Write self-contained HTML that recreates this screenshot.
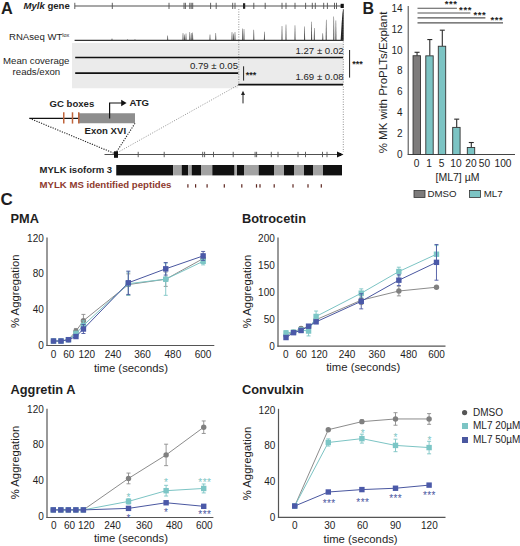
<!DOCTYPE html>
<html><head><meta charset="utf-8"><style>
html,body{margin:0;padding:0;background:#fff;}
svg{display:block;font-family:"Liberation Sans", sans-serif;}
</style></head><body>
<svg width="520" height="546" viewBox="0 0 520 546">
<rect width="520" height="546" fill="#fff"/>
<text x="1" y="13.8" font-size="16.3" font-weight="bold" text-anchor="start" fill="#1e1e1e" >A</text>
<text x="23.4" y="8.5" font-size="9.6" font-weight="bold" fill="#1e1e1e"><tspan font-style="italic">Mylk</tspan> gene</text>
<line x1="74.8" y1="5.9" x2="342" y2="5.9" stroke="#505050" stroke-width="1.05" />
<line x1="74.8" y1="2.8" x2="74.8" y2="9" stroke="#505050" stroke-width="0.9" />
<line x1="112.3" y1="2.8" x2="112.3" y2="9" stroke="#505050" stroke-width="0.9" />
<line x1="169" y1="2.8" x2="169" y2="9" stroke="#505050" stroke-width="0.9" />
<line x1="184" y1="2.8" x2="184" y2="9" stroke="#505050" stroke-width="0.9" />
<line x1="185.4" y1="2.8" x2="185.4" y2="9" stroke="#505050" stroke-width="0.9" />
<line x1="189.8" y1="2.8" x2="189.8" y2="9" stroke="#505050" stroke-width="0.9" />
<line x1="191.2" y1="2.8" x2="191.2" y2="9" stroke="#505050" stroke-width="0.9" />
<line x1="192.7" y1="2.8" x2="192.7" y2="9" stroke="#505050" stroke-width="0.9" />
<line x1="210.6" y1="2.8" x2="210.6" y2="9" stroke="#505050" stroke-width="0.9" />
<line x1="216.2" y1="2.8" x2="216.2" y2="9" stroke="#505050" stroke-width="0.9" />
<line x1="232.7" y1="2.8" x2="232.7" y2="9" stroke="#505050" stroke-width="0.9" />
<line x1="235" y1="2.8" x2="235" y2="9" stroke="#505050" stroke-width="0.9" />
<line x1="253.8" y1="2.8" x2="253.8" y2="9" stroke="#505050" stroke-width="0.9" />
<line x1="265.2" y1="2.8" x2="265.2" y2="9" stroke="#505050" stroke-width="0.9" />
<line x1="282" y1="2.8" x2="282" y2="9" stroke="#505050" stroke-width="0.9" />
<line x1="286" y1="2.8" x2="286" y2="9" stroke="#505050" stroke-width="0.9" />
<line x1="295" y1="2.8" x2="295" y2="9" stroke="#505050" stroke-width="0.9" />
<line x1="305.6" y1="2.8" x2="305.6" y2="9" stroke="#505050" stroke-width="0.9" />
<line x1="312.3" y1="2.8" x2="312.3" y2="9" stroke="#505050" stroke-width="0.9" />
<line x1="315.3" y1="2.8" x2="315.3" y2="9" stroke="#505050" stroke-width="0.9" />
<line x1="323.7" y1="2.8" x2="323.7" y2="9" stroke="#505050" stroke-width="0.9" />
<line x1="327.4" y1="2.8" x2="327.4" y2="9" stroke="#505050" stroke-width="0.9" />
<line x1="334.5" y1="2.8" x2="334.5" y2="9" stroke="#505050" stroke-width="0.9" />
<line x1="336.5" y1="2.8" x2="336.5" y2="9" stroke="#505050" stroke-width="0.9" />
<rect x="243" y="3.2" width="2.2" height="5.6" fill="#222" />
<rect x="340.6" y="3.8" width="3.2" height="4.2" fill="#111" />
<text x="9" y="39.6" font-size="9.6" fill="#1e1e1e">RNAseq WT<tspan font-size="5.5" dy="-2.6">lox</tspan></text>
<path d="M111.45 40.4 L111.8 38.5 L112.2 38.5 L112.55 40.4 Z" fill="#444"/>
<path d="M127.15 40.4 L127.5 39.2 L127.9 39.2 L128.25 40.4 Z" fill="#444"/>
<path d="M134.45 40.4 L134.8 39.2 L135.2 39.2 L135.55 40.4 Z" fill="#444"/>
<path d="M167.14999999999998 40.4 L167.5 35.6 L167.89999999999998 35.6 L168.25 40.4 Z" fill="#444"/>
<path d="M182.45 40.4 L182.8 33 L183.2 33 L183.55 40.4 Z" fill="#444"/>
<path d="M184.04999999999998 40.4 L184.4 34.5 L184.79999999999998 34.5 L185.15 40.4 Z" fill="#444"/>
<path d="M185.45 40.4 L185.8 33.5 L186.2 33.5 L186.55 40.4 Z" fill="#444"/>
<path d="M189.25 40.4 L189.60000000000002 32 L190.0 32 L190.35000000000002 40.4 Z" fill="#444"/>
<path d="M190.64999999999998 40.4 L191.0 33 L191.39999999999998 33 L191.75 40.4 Z" fill="#444"/>
<path d="M192.14999999999998 40.4 L192.5 32.5 L192.89999999999998 32.5 L193.25 40.4 Z" fill="#444"/>
<path d="M209.45 40.4 L209.8 34.6 L210.2 34.6 L210.55 40.4 Z" fill="#444"/>
<path d="M215.25 40.4 L215.60000000000002 33 L216.0 33 L216.35000000000002 40.4 Z" fill="#444"/>
<path d="M231.45 40.4 L231.8 32 L232.2 32 L232.55 40.4 Z" fill="#444"/>
<path d="M233.04999999999998 40.4 L233.4 33.5 L233.79999999999998 33.5 L234.15 40.4 Z" fill="#444"/>
<path d="M234.45 40.4 L234.8 32 L235.2 32 L235.55 40.4 Z" fill="#444"/>
<path d="M242.14999999999998 40.4 L242.5 28.5 L242.89999999999998 28.5 L243.25 40.4 Z" fill="#444"/>
<path d="M243.45 40.4 L243.8 29 L244.2 29 L244.55 40.4 Z" fill="#444"/>
<path d="M253.25 40.4 L253.60000000000002 29.8 L254.0 29.8 L254.35000000000002 40.4 Z" fill="#444"/>
<path d="M263.84999999999997 40.4 L264.2 31.7 L264.59999999999997 31.7 L264.95 40.4 Z" fill="#444"/>
<path d="M281.45 40.4 L281.8 25.9 L282.2 25.9 L282.55 40.4 Z" fill="#444"/>
<path d="M285.45 40.4 L285.8 24.5 L286.2 24.5 L286.55 40.4 Z" fill="#444"/>
<path d="M294.45 40.4 L294.8 25.2 L295.2 25.2 L295.55 40.4 Z" fill="#444"/>
<path d="M304.05 40.4 L304.40000000000003 26.5 L304.8 26.5 L305.15000000000003 40.4 Z" fill="#444"/>
<path d="M311.05 40.4 L311.40000000000003 21.8 L311.8 21.8 L312.15000000000003 40.4 Z" fill="#444"/>
<path d="M313.75 40.4 L314.1 27.9 L314.5 27.9 L314.85 40.4 Z" fill="#444"/>
<path d="M322.25 40.4 L322.6 33.3 L323.0 33.3 L323.35 40.4 Z" fill="#444"/>
<path d="M325.65 40.4 L326.0 19.8 L326.4 19.8 L326.75 40.4 Z" fill="#444"/>
<path d="M333.25 40.4 L333.6 16.4 L334.0 16.4 L334.35 40.4 Z" fill="#444"/>
<path d="M335.34999999999997 40.4 L335.7 20.5 L336.09999999999997 20.5 L336.45 40.4 Z" fill="#444"/>
<path d="M340.6 40.4 L341.6 24 L342.4 14 L343 9.5 L343.7 9.5 L343.7 40.4 Z" fill="#222"/>
<line x1="74.6" y1="40.4" x2="343.4" y2="40.4" stroke="#333" stroke-width="1.1" />
<path d="M72 43 H343.5 V84.6 H238.2 V88.3 H72 Z" fill="#ebebeb"/>
<line x1="238.8" y1="9" x2="238.8" y2="84" stroke="#777" stroke-width="0.8" stroke-dasharray="1,1.5"/>
<line x1="343.3" y1="9" x2="343.3" y2="152" stroke="#777" stroke-width="0.8" stroke-dasharray="1,1.5"/>
<line x1="75.2" y1="57.5" x2="343" y2="57.5" stroke="#111" stroke-width="1.6" />
<line x1="75.2" y1="73.1" x2="238.2" y2="73.1" stroke="#111" stroke-width="1.6" />
<line x1="238.2" y1="84.6" x2="343" y2="84.6" stroke="#111" stroke-width="1.6" />
<text x="3.1" y="63.9" font-size="9.65" font-weight="normal" text-anchor="start" fill="#1e1e1e" >Mean coverage</text>
<text x="36.4" y="75" font-size="9.65" font-weight="normal" text-anchor="middle" fill="#1e1e1e" >reads/exon</text>
<text x="343.6" y="53.5" font-size="9.65" font-weight="normal" text-anchor="end" fill="#1e1e1e" >1.27 ± 0.02</text>
<text x="238" y="69.3" font-size="9.65" font-weight="normal" text-anchor="end" fill="#1e1e1e" >0.79 ± 0.05</text>
<text x="343.6" y="80.4" font-size="9.65" font-weight="normal" text-anchor="end" fill="#1e1e1e" >1.69 ± 0.08</text>
<line x1="243.6" y1="66.3" x2="243.6" y2="80.6" stroke="#222" stroke-width="1" />
<text x="245.8" y="77.6" font-size="9" font-weight="bold" text-anchor="start" fill="#1e1e1e" >***</text>
<line x1="349.6" y1="50" x2="349.6" y2="77.6" stroke="#222" stroke-width="1" />
<text x="352.3" y="67" font-size="9" font-weight="bold" text-anchor="start" fill="#1e1e1e" >***</text>
<line x1="243" y1="92.5" x2="243" y2="103.4" stroke="#222" stroke-width="1" />
<path d="M241 95 L243 90.8 L245 95 Z" fill="#222"/>
<line x1="238.2" y1="85" x2="118.5" y2="152" stroke="#777" stroke-width="0.8" stroke-dasharray="1,1.5"/>
<line x1="29.5" y1="118.3" x2="114.5" y2="153.5" stroke="#222" stroke-width="1.1" stroke-dasharray="1.2,1.3"/>
<line x1="135" y1="123.3" x2="116.5" y2="152" stroke="#222" stroke-width="1.1" stroke-dasharray="1.2,1.3"/>
<text x="49.5" y="107" font-size="9.6" font-weight="bold" text-anchor="start" fill="#1e1e1e" >GC boxes</text>
<line x1="29.5" y1="118.3" x2="79" y2="118.3" stroke="#111" stroke-width="1.2" />
<rect x="78.75" y="113.25" width="56.25" height="10" fill="#8e8e8e" />
<line x1="63.75" y1="112.3" x2="63.75" y2="123.6" stroke="#c0653c" stroke-width="1.5" />
<line x1="72.5" y1="112.3" x2="72.5" y2="123.6" stroke="#c0653c" stroke-width="1.5" />
<line x1="78.75" y1="112.3" x2="78.75" y2="123.6" stroke="#c0653c" stroke-width="1.5" />
<path d="M109.6 118.5 V103 H122" fill="none" stroke="#111" stroke-width="1.2"/>
<path d="M121.2 99.8 L126.6 103 L121.2 106.2 Z" fill="#111"/>
<text x="129.5" y="105.8" font-size="9.6" font-weight="bold" text-anchor="start" fill="#1e1e1e" >ATG</text>
<text x="84.5" y="134.3" font-size="9.6" font-weight="bold" text-anchor="start" fill="#1e1e1e" >Exon XVI</text>
<line x1="104.5" y1="154.5" x2="340" y2="154.5" stroke="#505050" stroke-width="1" />
<rect x="114" y="151.3" width="4" height="6.5" fill="#111" />
<line x1="138.2" y1="151.8" x2="138.2" y2="157.2" stroke="#505050" stroke-width="0.9" />
<line x1="164.2" y1="151.8" x2="164.2" y2="157.2" stroke="#505050" stroke-width="0.9" />
<line x1="202.7" y1="151.8" x2="202.7" y2="157.2" stroke="#505050" stroke-width="0.9" />
<line x1="204.6" y1="151.8" x2="204.6" y2="157.2" stroke="#505050" stroke-width="0.9" />
<line x1="213.5" y1="151.8" x2="213.5" y2="157.2" stroke="#505050" stroke-width="0.9" />
<line x1="233.2" y1="151.8" x2="233.2" y2="157.2" stroke="#505050" stroke-width="0.9" />
<line x1="255.1" y1="151.8" x2="255.1" y2="157.2" stroke="#505050" stroke-width="0.9" />
<line x1="256.6" y1="151.8" x2="256.6" y2="157.2" stroke="#505050" stroke-width="0.9" />
<line x1="271.3" y1="151.8" x2="271.3" y2="157.2" stroke="#505050" stroke-width="0.9" />
<line x1="278" y1="151.8" x2="278" y2="157.2" stroke="#505050" stroke-width="0.9" />
<line x1="298" y1="151.8" x2="298" y2="157.2" stroke="#505050" stroke-width="0.9" />
<line x1="305.5" y1="151.8" x2="305.5" y2="157.2" stroke="#505050" stroke-width="0.9" />
<line x1="322.5" y1="151.8" x2="322.5" y2="157.2" stroke="#505050" stroke-width="0.9" />
<line x1="327" y1="151.8" x2="327" y2="157.2" stroke="#505050" stroke-width="0.9" />
<path d="M337 151.5 L343.5 154.5 L337 157.5 Z" fill="#111"/>
<rect x="337" y="153" width="4" height="3" fill="#111" />
<text x="39.5" y="173.3" font-size="9.55" font-weight="bold" text-anchor="start" fill="#1e1e1e" >MYLK isoform 3</text>
<rect x="116.25" y="165" width="56.85" height="10.4" fill="#111" />
<rect x="173.1" y="165" width="8.6" height="10.4" fill="#a3a3a3" />
<rect x="181.7" y="165" width="6.6" height="10.4" fill="#111" />
<rect x="188.3" y="165" width="3.4" height="10.4" fill="#a3a3a3" />
<rect x="191.7" y="165" width="9.3" height="10.4" fill="#111" />
<rect x="201" y="165" width="11.3" height="10.4" fill="#a3a3a3" />
<rect x="212.3" y="165" width="22.3" height="10.4" fill="#111" />
<rect x="234.6" y="165" width="2.4" height="10.4" fill="#aaa" />
<rect x="237" y="165" width="7" height="10.4" fill="#111" />
<rect x="244" y="165" width="14" height="10.4" fill="#a3a3a3" />
<rect x="258.5" y="165" width="15.5" height="10.4" fill="#111" />
<rect x="274" y="165" width="10" height="10.4" fill="#a3a3a3" />
<rect x="284" y="165" width="10" height="10.4" fill="#111" />
<rect x="294" y="165" width="10" height="10.4" fill="#a3a3a3" />
<rect x="304" y="165" width="9" height="10.4" fill="#111" />
<rect x="313" y="165" width="10" height="10.4" fill="#a3a3a3" />
<rect x="323" y="165" width="19" height="10.4" fill="#111" />
<text x="39.5" y="187.6" font-size="9.62" font-weight="bold" text-anchor="start" fill="#8e3a2e" >MYLK MS identified peptides</text>
<rect x="187.3" y="184.2" width="1.2" height="3.4" fill="#5e2620" />
<rect x="195.0" y="184.2" width="1.2" height="3.4" fill="#5e2620" />
<rect x="206.5" y="184.2" width="1.2" height="3.4" fill="#5e2620" />
<rect x="223.70000000000002" y="184.2" width="1.2" height="3.4" fill="#5e2620" />
<rect x="241.20000000000002" y="184.2" width="1.2" height="3.4" fill="#5e2620" />
<rect x="255.9" y="184.2" width="1.2" height="3.4" fill="#5e2620" />
<rect x="259.4" y="184.2" width="1.2" height="3.4" fill="#5e2620" />
<rect x="273.59999999999997" y="184.2" width="1.2" height="3.4" fill="#5e2620" />
<rect x="292.4" y="184.2" width="1.2" height="3.4" fill="#5e2620" />
<rect x="307.4" y="184.2" width="1.2" height="3.4" fill="#5e2620" />
<rect x="320.7" y="184.2" width="1.2" height="3.4" fill="#5e2620" />
<text x="362.6" y="13.6" font-size="16" font-weight="bold" text-anchor="start" fill="#1e1e1e" >B</text>
<line x1="408.2" y1="6" x2="408.2" y2="154.8" stroke="#444" stroke-width="1" />
<line x1="407.7" y1="154.5" x2="515" y2="154.5" stroke="#444" stroke-width="1" />
<text x="402.6" y="157.8" font-size="10" font-weight="normal" text-anchor="end" fill="#1e1e1e" >0</text>
<text x="402.6" y="136.94" font-size="10" font-weight="normal" text-anchor="end" fill="#1e1e1e" >2</text>
<text x="402.6" y="116.08" font-size="10" font-weight="normal" text-anchor="end" fill="#1e1e1e" >4</text>
<text x="402.6" y="95.22" font-size="10" font-weight="normal" text-anchor="end" fill="#1e1e1e" >6</text>
<text x="402.6" y="74.36" font-size="10" font-weight="normal" text-anchor="end" fill="#1e1e1e" >8</text>
<text x="402.6" y="53.5" font-size="10" font-weight="normal" text-anchor="end" fill="#1e1e1e" >10</text>
<text x="402.6" y="32.64" font-size="10" font-weight="normal" text-anchor="end" fill="#1e1e1e" >12</text>
<text x="402.6" y="11.78" font-size="10" font-weight="normal" text-anchor="end" fill="#1e1e1e" >14</text>
<line x1="417.05" y1="52.29460000000002" x2="417.05" y2="55.73650000000002" stroke="#2a2a2a" stroke-width="1.1" />
<line x1="414.55" y1="52.29460000000002" x2="419.55" y2="52.29460000000002" stroke="#2a2a2a" stroke-width="1.1" />
<rect x="413.05" y="55.73650000000002" width="7.4" height="98.76349999999998" fill="#7d7b7b" stroke="#333" stroke-width="0.9"/>
<line x1="429.8" y1="39.57000000000002" x2="429.8" y2="55.840800000000016" stroke="#2a2a2a" stroke-width="1.1" />
<line x1="427.3" y1="39.57000000000002" x2="432.3" y2="39.57000000000002" stroke="#2a2a2a" stroke-width="1.1" />
<rect x="425.8" y="55.840800000000016" width="7.4" height="98.65919999999998" fill="#7cc4c4" stroke="#333" stroke-width="0.9"/>
<line x1="442.3" y1="30.183000000000007" x2="442.3" y2="46.245200000000025" stroke="#2a2a2a" stroke-width="1.1" />
<line x1="439.8" y1="30.183000000000007" x2="444.8" y2="30.183000000000007" stroke="#2a2a2a" stroke-width="1.1" />
<rect x="438.3" y="46.245200000000025" width="7.4" height="108.25479999999997" fill="#7cc4c4" stroke="#333" stroke-width="0.9"/>
<line x1="456.7" y1="119.15090000000001" x2="456.7" y2="127.3906" stroke="#2a2a2a" stroke-width="1.1" />
<line x1="454.2" y1="119.15090000000001" x2="459.2" y2="119.15090000000001" stroke="#2a2a2a" stroke-width="1.1" />
<rect x="452.7" y="127.3906" width="7.4" height="27.109399999999994" fill="#7cc4c4" stroke="#333" stroke-width="0.9"/>
<line x1="471.3" y1="142.5141" x2="471.3" y2="147.5205" stroke="#2a2a2a" stroke-width="1.1" />
<line x1="468.8" y1="142.5141" x2="473.8" y2="142.5141" stroke="#2a2a2a" stroke-width="1.1" />
<rect x="467.3" y="147.5205" width="7.4" height="6.979500000000002" fill="#7cc4c4" stroke="#333" stroke-width="0.9"/>
<text x="416.6" y="167.3" font-size="10.2" font-weight="normal" text-anchor="middle" fill="#1e1e1e" >0</text>
<text x="429" y="167.3" font-size="10.2" font-weight="normal" text-anchor="middle" fill="#1e1e1e" >1</text>
<text x="441.6" y="167.3" font-size="10.2" font-weight="normal" text-anchor="middle" fill="#1e1e1e" >5</text>
<text x="456" y="167.3" font-size="10.2" font-weight="normal" text-anchor="middle" fill="#1e1e1e" >10</text>
<text x="471" y="167.3" font-size="10.2" font-weight="normal" text-anchor="middle" fill="#1e1e1e" >20</text>
<text x="484.5" y="167.3" font-size="10.2" font-weight="normal" text-anchor="middle" fill="#1e1e1e" >50</text>
<text x="503" y="167.3" font-size="10.2" font-weight="normal" text-anchor="middle" fill="#1e1e1e" >100</text>
<text x="457.5" y="180.6" font-size="10.5" font-weight="normal" text-anchor="middle" fill="#1e1e1e" >[ML7] µM</text>
<text transform="translate(387.4,82.5) rotate(-90)" font-size="11.5" text-anchor="middle" fill="#1e1e1e">% MK with ProPLTs/Explant</text>
<line x1="417.5" y1="8.2" x2="456.9" y2="8.2" stroke="#555" stroke-width="1.1" />
<line x1="417.5" y1="13" x2="470.4" y2="13" stroke="#555" stroke-width="1.1" />
<line x1="417.5" y1="17.9" x2="485.4" y2="17.9" stroke="#555" stroke-width="1.1" />
<line x1="417.5" y1="22.9" x2="503" y2="22.9" stroke="#555" stroke-width="1.1" />
<text x="444.7" y="7.3999999999999995" font-size="9.5" font-weight="bold" text-anchor="start" fill="#1e1e1e" letter-spacing="0.6">***</text>
<text x="459.09999999999997" y="13.4" font-size="9.5" font-weight="bold" text-anchor="start" fill="#1e1e1e" letter-spacing="0.6">***</text>
<text x="473.5" y="18.2" font-size="9.5" font-weight="bold" text-anchor="start" fill="#1e1e1e" letter-spacing="0.6">***</text>
<text x="490.5" y="23.400000000000002" font-size="9.5" font-weight="bold" text-anchor="start" fill="#1e1e1e" letter-spacing="0.6">***</text>
<rect x="414" y="190.5" width="11" height="7" fill="#7d7b7b" stroke="#333" stroke-width="0.8"/>
<text x="427.5" y="197.4" font-size="9.7" font-weight="normal" text-anchor="start" fill="#1e1e1e" >DMSO</text>
<rect x="469.5" y="190.5" width="11" height="7" fill="#7cc4c4" stroke="#333" stroke-width="0.8"/>
<text x="483.7" y="197.4" font-size="9.7" font-weight="normal" text-anchor="start" fill="#1e1e1e" >ML7</text>
<text x="0.6" y="204.6" font-size="17" font-weight="bold" text-anchor="start" fill="#1e1e1e" >C</text>
<text x="10.5" y="223.4" font-size="12.8" font-weight="bold" text-anchor="start" fill="#1e1e1e" >PMA</text>
<line x1="47" y1="237.5" x2="47" y2="346.1" stroke="#555" stroke-width="1.2" />
<line x1="46.4" y1="345.5" x2="214.3" y2="345.5" stroke="#555" stroke-width="1.2" />
<text x="43.8" y="349.0" font-size="10" font-weight="normal" text-anchor="end" fill="#1e1e1e" >0</text>
<text x="43.8" y="313.17" font-size="10" font-weight="normal" text-anchor="end" fill="#1e1e1e" >40</text>
<text x="43.8" y="277.34" font-size="10" font-weight="normal" text-anchor="end" fill="#1e1e1e" >80</text>
<text x="43.8" y="241.5" font-size="10" font-weight="normal" text-anchor="end" fill="#1e1e1e" >120</text>
<text x="53.65" y="357.9" font-size="10" font-weight="normal" text-anchor="middle" fill="#1e1e1e" >0</text>
<text x="68.85" y="357.9" font-size="10" font-weight="normal" text-anchor="middle" fill="#1e1e1e" >60</text>
<text x="86.85" y="357.9" font-size="10" font-weight="normal" text-anchor="middle" fill="#1e1e1e" >120</text>
<text x="113" y="357.9" font-size="10" font-weight="normal" text-anchor="middle" fill="#1e1e1e" >240</text>
<text x="142.5" y="357.9" font-size="10" font-weight="normal" text-anchor="middle" fill="#1e1e1e" >360</text>
<text x="172.9" y="357.9" font-size="10" font-weight="normal" text-anchor="middle" fill="#1e1e1e" >480</text>
<text x="203" y="357.9" font-size="10" font-weight="normal" text-anchor="middle" fill="#1e1e1e" >600</text>
<text x="93.9" y="371.5" font-size="11.3" font-weight="normal" text-anchor="start" fill="#1e1e1e" >time (seconds)</text>
<text transform="translate(19.3,291.2) rotate(-90)" font-size="11.3" text-anchor="middle" fill="#1e1e1e">% Aggregation</text>
<path d="M53.50 341.02 L60.98 341.02 L68.46 339.68 L75.95 331.17 L83.43 320.69 L128.32 284.59 L165.73 279.21 L203.14 258.61" fill="none" stroke="#8c8c8c" stroke-width="1"/>
<line x1="53.5" y1="340.13" x2="53.5" y2="341.92" stroke="#8c8c8c" stroke-width="0.9" />
<line x1="51.5" y1="340.13" x2="55.5" y2="340.13" stroke="#8c8c8c" stroke-width="0.9" />
<line x1="51.5" y1="341.92" x2="55.5" y2="341.92" stroke="#8c8c8c" stroke-width="0.9" />
<line x1="60.98" y1="340.13" x2="60.98" y2="341.92" stroke="#8c8c8c" stroke-width="0.9" />
<line x1="58.98" y1="340.13" x2="62.98" y2="340.13" stroke="#8c8c8c" stroke-width="0.9" />
<line x1="58.98" y1="341.92" x2="62.98" y2="341.92" stroke="#8c8c8c" stroke-width="0.9" />
<line x1="68.46" y1="338.78" x2="68.46" y2="340.57" stroke="#8c8c8c" stroke-width="0.9" />
<line x1="66.46" y1="338.78" x2="70.46" y2="338.78" stroke="#8c8c8c" stroke-width="0.9" />
<line x1="66.46" y1="340.57" x2="70.46" y2="340.57" stroke="#8c8c8c" stroke-width="0.9" />
<line x1="75.95" y1="328.48" x2="75.95" y2="333.85" stroke="#8c8c8c" stroke-width="0.9" />
<line x1="73.95" y1="328.48" x2="77.95" y2="328.48" stroke="#8c8c8c" stroke-width="0.9" />
<line x1="73.95" y1="333.85" x2="77.95" y2="333.85" stroke="#8c8c8c" stroke-width="0.9" />
<line x1="83.43" y1="314.42" x2="83.43" y2="326.96" stroke="#8c8c8c" stroke-width="0.9" />
<line x1="81.43" y1="314.42" x2="85.43" y2="314.42" stroke="#8c8c8c" stroke-width="0.9" />
<line x1="81.43" y1="326.96" x2="85.43" y2="326.96" stroke="#8c8c8c" stroke-width="0.9" />
<line x1="128.32" y1="273.84" x2="128.32" y2="295.34" stroke="#8c8c8c" stroke-width="0.9" />
<line x1="126.32" y1="273.84" x2="130.32" y2="273.84" stroke="#8c8c8c" stroke-width="0.9" />
<line x1="126.32" y1="295.34" x2="130.32" y2="295.34" stroke="#8c8c8c" stroke-width="0.9" />
<line x1="165.73" y1="272.04" x2="165.73" y2="286.38" stroke="#8c8c8c" stroke-width="0.9" />
<line x1="163.73" y1="272.04" x2="167.73" y2="272.04" stroke="#8c8c8c" stroke-width="0.9" />
<line x1="163.73" y1="286.38" x2="167.73" y2="286.38" stroke="#8c8c8c" stroke-width="0.9" />
<line x1="203.14" y1="254.13" x2="203.14" y2="263.09" stroke="#8c8c8c" stroke-width="0.9" />
<line x1="201.14" y1="254.13" x2="205.14" y2="254.13" stroke="#8c8c8c" stroke-width="0.9" />
<line x1="201.14" y1="263.09" x2="205.14" y2="263.09" stroke="#8c8c8c" stroke-width="0.9" />
<circle cx="53.50" cy="341.02" r="2.7" fill="#808080"/>
<circle cx="60.98" cy="341.02" r="2.7" fill="#808080"/>
<circle cx="68.46" cy="339.68" r="2.7" fill="#808080"/>
<circle cx="75.95" cy="331.17" r="2.7" fill="#808080"/>
<circle cx="83.43" cy="320.69" r="2.7" fill="#808080"/>
<circle cx="128.32" cy="284.59" r="2.7" fill="#808080"/>
<circle cx="165.73" cy="279.21" r="2.7" fill="#808080"/>
<circle cx="203.14" cy="258.61" r="2.7" fill="#808080"/>
<path d="M53.50 341.02 L60.98 341.02 L68.46 339.68 L75.95 333.85 L83.43 325.34 L128.32 283.69 L165.73 279.21 L203.14 261.29" fill="none" stroke="#7cc4c4" stroke-width="1"/>
<line x1="53.5" y1="340.13" x2="53.5" y2="341.92" stroke="#7cc4c4" stroke-width="0.9" />
<line x1="51.5" y1="340.13" x2="55.5" y2="340.13" stroke="#7cc4c4" stroke-width="0.9" />
<line x1="51.5" y1="341.92" x2="55.5" y2="341.92" stroke="#7cc4c4" stroke-width="0.9" />
<line x1="60.98" y1="340.13" x2="60.98" y2="341.92" stroke="#7cc4c4" stroke-width="0.9" />
<line x1="58.98" y1="340.13" x2="62.98" y2="340.13" stroke="#7cc4c4" stroke-width="0.9" />
<line x1="58.98" y1="341.92" x2="62.98" y2="341.92" stroke="#7cc4c4" stroke-width="0.9" />
<line x1="68.46" y1="338.78" x2="68.46" y2="340.57" stroke="#7cc4c4" stroke-width="0.9" />
<line x1="66.46" y1="338.78" x2="70.46" y2="338.78" stroke="#7cc4c4" stroke-width="0.9" />
<line x1="66.46" y1="340.57" x2="70.46" y2="340.57" stroke="#7cc4c4" stroke-width="0.9" />
<line x1="75.95" y1="331.17" x2="75.95" y2="336.54" stroke="#7cc4c4" stroke-width="0.9" />
<line x1="73.95" y1="331.17" x2="77.95" y2="331.17" stroke="#7cc4c4" stroke-width="0.9" />
<line x1="73.95" y1="336.54" x2="77.95" y2="336.54" stroke="#7cc4c4" stroke-width="0.9" />
<line x1="83.43" y1="320.87" x2="83.43" y2="329.82" stroke="#7cc4c4" stroke-width="0.9" />
<line x1="81.43" y1="320.87" x2="85.43" y2="320.87" stroke="#7cc4c4" stroke-width="0.9" />
<line x1="81.43" y1="329.82" x2="85.43" y2="329.82" stroke="#7cc4c4" stroke-width="0.9" />
<line x1="128.32" y1="272.04" x2="128.32" y2="295.34" stroke="#7cc4c4" stroke-width="0.9" />
<line x1="126.32" y1="272.04" x2="130.32" y2="272.04" stroke="#7cc4c4" stroke-width="0.9" />
<line x1="126.32" y1="295.34" x2="130.32" y2="295.34" stroke="#7cc4c4" stroke-width="0.9" />
<line x1="165.73" y1="263.09" x2="165.73" y2="295.34" stroke="#7cc4c4" stroke-width="0.9" />
<line x1="163.73" y1="263.09" x2="167.73" y2="263.09" stroke="#7cc4c4" stroke-width="0.9" />
<line x1="163.73" y1="295.34" x2="167.73" y2="295.34" stroke="#7cc4c4" stroke-width="0.9" />
<line x1="203.14" y1="257.71" x2="203.14" y2="264.88" stroke="#7cc4c4" stroke-width="0.9" />
<line x1="201.14" y1="257.71" x2="205.14" y2="257.71" stroke="#7cc4c4" stroke-width="0.9" />
<line x1="201.14" y1="264.88" x2="205.14" y2="264.88" stroke="#7cc4c4" stroke-width="0.9" />
<rect x="50.80" y="338.32" width="5.4" height="5.4" fill="#7cc6c6"/>
<rect x="58.28" y="338.32" width="5.4" height="5.4" fill="#7cc6c6"/>
<rect x="65.76" y="336.98" width="5.4" height="5.4" fill="#7cc6c6"/>
<rect x="73.25" y="331.15" width="5.4" height="5.4" fill="#7cc6c6"/>
<rect x="80.73" y="322.64" width="5.4" height="5.4" fill="#7cc6c6"/>
<rect x="125.62" y="280.99" width="5.4" height="5.4" fill="#7cc6c6"/>
<rect x="163.03" y="276.51" width="5.4" height="5.4" fill="#7cc6c6"/>
<rect x="200.44" y="258.59" width="5.4" height="5.4" fill="#7cc6c6"/>
<path d="M53.50 341.02 L60.98 341.02 L68.46 339.68 L75.95 336.54 L83.43 329.02 L128.32 282.79 L165.73 268.82 L203.14 255.92" fill="none" stroke="#4a57a0" stroke-width="1"/>
<line x1="53.5" y1="340.13" x2="53.5" y2="341.92" stroke="#4a57a0" stroke-width="0.9" />
<line x1="51.5" y1="340.13" x2="55.5" y2="340.13" stroke="#4a57a0" stroke-width="0.9" />
<line x1="51.5" y1="341.92" x2="55.5" y2="341.92" stroke="#4a57a0" stroke-width="0.9" />
<line x1="60.98" y1="340.13" x2="60.98" y2="341.92" stroke="#4a57a0" stroke-width="0.9" />
<line x1="58.98" y1="340.13" x2="62.98" y2="340.13" stroke="#4a57a0" stroke-width="0.9" />
<line x1="58.98" y1="341.92" x2="62.98" y2="341.92" stroke="#4a57a0" stroke-width="0.9" />
<line x1="68.46" y1="338.78" x2="68.46" y2="340.57" stroke="#4a57a0" stroke-width="0.9" />
<line x1="66.46" y1="338.78" x2="70.46" y2="338.78" stroke="#4a57a0" stroke-width="0.9" />
<line x1="66.46" y1="340.57" x2="70.46" y2="340.57" stroke="#4a57a0" stroke-width="0.9" />
<line x1="75.95" y1="334.75" x2="75.95" y2="338.33" stroke="#4a57a0" stroke-width="0.9" />
<line x1="73.95" y1="334.75" x2="77.95" y2="334.75" stroke="#4a57a0" stroke-width="0.9" />
<line x1="73.95" y1="338.33" x2="77.95" y2="338.33" stroke="#4a57a0" stroke-width="0.9" />
<line x1="83.43" y1="324.54" x2="83.43" y2="333.5" stroke="#4a57a0" stroke-width="0.9" />
<line x1="81.43" y1="324.54" x2="85.43" y2="324.54" stroke="#4a57a0" stroke-width="0.9" />
<line x1="81.43" y1="333.5" x2="85.43" y2="333.5" stroke="#4a57a0" stroke-width="0.9" />
<line x1="128.32" y1="271.15" x2="128.32" y2="294.44" stroke="#4a57a0" stroke-width="0.9" />
<line x1="126.32" y1="271.15" x2="130.32" y2="271.15" stroke="#4a57a0" stroke-width="0.9" />
<line x1="126.32" y1="294.44" x2="130.32" y2="294.44" stroke="#4a57a0" stroke-width="0.9" />
<line x1="165.73" y1="262.55" x2="165.73" y2="275.09" stroke="#4a57a0" stroke-width="0.9" />
<line x1="163.73" y1="262.55" x2="167.73" y2="262.55" stroke="#4a57a0" stroke-width="0.9" />
<line x1="163.73" y1="275.09" x2="167.73" y2="275.09" stroke="#4a57a0" stroke-width="0.9" />
<line x1="203.14" y1="251.44" x2="203.14" y2="260.4" stroke="#4a57a0" stroke-width="0.9" />
<line x1="201.14" y1="251.44" x2="205.14" y2="251.44" stroke="#4a57a0" stroke-width="0.9" />
<line x1="201.14" y1="260.4" x2="205.14" y2="260.4" stroke="#4a57a0" stroke-width="0.9" />
<rect x="50.80" y="338.32" width="5.4" height="5.4" fill="#4b59a8"/>
<rect x="58.28" y="338.32" width="5.4" height="5.4" fill="#4b59a8"/>
<rect x="65.76" y="336.98" width="5.4" height="5.4" fill="#4b59a8"/>
<rect x="73.25" y="333.84" width="5.4" height="5.4" fill="#4b59a8"/>
<rect x="80.73" y="326.32" width="5.4" height="5.4" fill="#4b59a8"/>
<rect x="125.62" y="280.09" width="5.4" height="5.4" fill="#4b59a8"/>
<rect x="163.03" y="266.12" width="5.4" height="5.4" fill="#4b59a8"/>
<rect x="200.44" y="253.22" width="5.4" height="5.4" fill="#4b59a8"/>
<text x="242" y="223.4" font-size="12.8" font-weight="bold" text-anchor="start" fill="#1e1e1e" >Botrocetin</text>
<line x1="278" y1="237.5" x2="278" y2="346.8" stroke="#555" stroke-width="1.2" />
<line x1="277.4" y1="346.2" x2="445.5" y2="346.2" stroke="#555" stroke-width="1.2" />
<text x="274.8" y="349.7" font-size="10" font-weight="normal" text-anchor="end" fill="#1e1e1e" >0</text>
<text x="274.8" y="322.65" font-size="10" font-weight="normal" text-anchor="end" fill="#1e1e1e" >50</text>
<text x="274.8" y="295.6" font-size="10" font-weight="normal" text-anchor="end" fill="#1e1e1e" >100</text>
<text x="274.8" y="268.55" font-size="10" font-weight="normal" text-anchor="end" fill="#1e1e1e" >150</text>
<text x="274.8" y="241.5" font-size="10" font-weight="normal" text-anchor="end" fill="#1e1e1e" >200</text>
<text x="285.75" y="357.9" font-size="10" font-weight="normal" text-anchor="middle" fill="#1e1e1e" >0</text>
<text x="301.25" y="357.9" font-size="10" font-weight="normal" text-anchor="middle" fill="#1e1e1e" >60</text>
<text x="319.3" y="357.9" font-size="10" font-weight="normal" text-anchor="middle" fill="#1e1e1e" >120</text>
<text x="347" y="357.9" font-size="10" font-weight="normal" text-anchor="middle" fill="#1e1e1e" >240</text>
<text x="376.9" y="357.9" font-size="10" font-weight="normal" text-anchor="middle" fill="#1e1e1e" >360</text>
<text x="408.7" y="357.9" font-size="10" font-weight="normal" text-anchor="middle" fill="#1e1e1e" >480</text>
<text x="436.5" y="357.9" font-size="10" font-weight="normal" text-anchor="middle" fill="#1e1e1e" >600</text>
<text x="326.2" y="370.8" font-size="11.3" font-weight="normal" text-anchor="start" fill="#1e1e1e" >time (seconds)</text>
<text transform="translate(251,291.5) rotate(-90)" font-size="11.3" text-anchor="middle" fill="#1e1e1e">% Aggregation</text>
<path d="M286.00 335.38 L293.52 332.13 L301.05 328.35 L308.57 327.26 L316.10 319.69 L361.24 300.21 L398.86 291.02 L436.48 287.23" fill="none" stroke="#8c8c8c" stroke-width="1"/>
<line x1="286.0" y1="334.3" x2="286.0" y2="336.46" stroke="#8c8c8c" stroke-width="0.9" />
<line x1="284.0" y1="334.3" x2="288.0" y2="334.3" stroke="#8c8c8c" stroke-width="0.9" />
<line x1="284.0" y1="336.46" x2="288.0" y2="336.46" stroke="#8c8c8c" stroke-width="0.9" />
<line x1="293.52" y1="330.51" x2="293.52" y2="333.76" stroke="#8c8c8c" stroke-width="0.9" />
<line x1="291.52" y1="330.51" x2="295.52" y2="330.51" stroke="#8c8c8c" stroke-width="0.9" />
<line x1="291.52" y1="333.76" x2="295.52" y2="333.76" stroke="#8c8c8c" stroke-width="0.9" />
<line x1="301.05" y1="326.72" x2="301.05" y2="329.97" stroke="#8c8c8c" stroke-width="0.9" />
<line x1="299.05" y1="326.72" x2="303.05" y2="326.72" stroke="#8c8c8c" stroke-width="0.9" />
<line x1="299.05" y1="329.97" x2="303.05" y2="329.97" stroke="#8c8c8c" stroke-width="0.9" />
<line x1="308.57" y1="325.64" x2="308.57" y2="328.89" stroke="#8c8c8c" stroke-width="0.9" />
<line x1="306.57" y1="325.64" x2="310.57" y2="325.64" stroke="#8c8c8c" stroke-width="0.9" />
<line x1="306.57" y1="328.89" x2="310.57" y2="328.89" stroke="#8c8c8c" stroke-width="0.9" />
<line x1="316.1" y1="317.53" x2="316.1" y2="321.85" stroke="#8c8c8c" stroke-width="0.9" />
<line x1="314.1" y1="317.53" x2="318.1" y2="317.53" stroke="#8c8c8c" stroke-width="0.9" />
<line x1="314.1" y1="321.85" x2="318.1" y2="321.85" stroke="#8c8c8c" stroke-width="0.9" />
<line x1="361.24" y1="295.89" x2="361.24" y2="304.54" stroke="#8c8c8c" stroke-width="0.9" />
<line x1="359.24" y1="295.89" x2="363.24" y2="295.89" stroke="#8c8c8c" stroke-width="0.9" />
<line x1="359.24" y1="304.54" x2="363.24" y2="304.54" stroke="#8c8c8c" stroke-width="0.9" />
<line x1="398.86" y1="286.15" x2="398.86" y2="295.89" stroke="#8c8c8c" stroke-width="0.9" />
<line x1="396.86" y1="286.15" x2="400.86" y2="286.15" stroke="#8c8c8c" stroke-width="0.9" />
<line x1="396.86" y1="295.89" x2="400.86" y2="295.89" stroke="#8c8c8c" stroke-width="0.9" />
<circle cx="286.00" cy="335.38" r="2.7" fill="#808080"/>
<circle cx="293.52" cy="332.13" r="2.7" fill="#808080"/>
<circle cx="301.05" cy="328.35" r="2.7" fill="#808080"/>
<circle cx="308.57" cy="327.26" r="2.7" fill="#808080"/>
<circle cx="316.10" cy="319.69" r="2.7" fill="#808080"/>
<circle cx="361.24" cy="300.21" r="2.7" fill="#808080"/>
<circle cx="398.86" cy="291.02" r="2.7" fill="#808080"/>
<circle cx="436.48" cy="287.23" r="2.7" fill="#808080"/>
<path d="M286.00 332.95 L293.52 332.13 L301.05 329.97 L308.57 331.05 L316.10 316.44 L361.24 293.18 L398.86 271.54 L436.48 254.23" fill="none" stroke="#7cc4c4" stroke-width="1"/>
<line x1="286.0" y1="330.78" x2="286.0" y2="335.11" stroke="#7cc4c4" stroke-width="0.9" />
<line x1="284.0" y1="330.78" x2="288.0" y2="330.78" stroke="#7cc4c4" stroke-width="0.9" />
<line x1="284.0" y1="335.11" x2="288.0" y2="335.11" stroke="#7cc4c4" stroke-width="0.9" />
<line x1="293.52" y1="330.51" x2="293.52" y2="333.76" stroke="#7cc4c4" stroke-width="0.9" />
<line x1="291.52" y1="330.51" x2="295.52" y2="330.51" stroke="#7cc4c4" stroke-width="0.9" />
<line x1="291.52" y1="333.76" x2="295.52" y2="333.76" stroke="#7cc4c4" stroke-width="0.9" />
<line x1="301.05" y1="327.81" x2="301.05" y2="332.13" stroke="#7cc4c4" stroke-width="0.9" />
<line x1="299.05" y1="327.81" x2="303.05" y2="327.81" stroke="#7cc4c4" stroke-width="0.9" />
<line x1="299.05" y1="332.13" x2="303.05" y2="332.13" stroke="#7cc4c4" stroke-width="0.9" />
<line x1="308.57" y1="326.18" x2="308.57" y2="335.92" stroke="#7cc4c4" stroke-width="0.9" />
<line x1="306.57" y1="326.18" x2="310.57" y2="326.18" stroke="#7cc4c4" stroke-width="0.9" />
<line x1="306.57" y1="335.92" x2="310.57" y2="335.92" stroke="#7cc4c4" stroke-width="0.9" />
<line x1="316.1" y1="311.03" x2="316.1" y2="321.86" stroke="#7cc4c4" stroke-width="0.9" />
<line x1="314.1" y1="311.03" x2="318.1" y2="311.03" stroke="#7cc4c4" stroke-width="0.9" />
<line x1="314.1" y1="321.86" x2="318.1" y2="321.86" stroke="#7cc4c4" stroke-width="0.9" />
<line x1="361.24" y1="288.85" x2="361.24" y2="297.51" stroke="#7cc4c4" stroke-width="0.9" />
<line x1="359.24" y1="288.85" x2="363.24" y2="288.85" stroke="#7cc4c4" stroke-width="0.9" />
<line x1="359.24" y1="297.51" x2="363.24" y2="297.51" stroke="#7cc4c4" stroke-width="0.9" />
<line x1="398.86" y1="267.21" x2="398.86" y2="275.87" stroke="#7cc4c4" stroke-width="0.9" />
<line x1="396.86" y1="267.21" x2="400.86" y2="267.21" stroke="#7cc4c4" stroke-width="0.9" />
<line x1="396.86" y1="275.87" x2="400.86" y2="275.87" stroke="#7cc4c4" stroke-width="0.9" />
<line x1="436.48" y1="245.57" x2="436.48" y2="262.89" stroke="#7cc4c4" stroke-width="0.9" />
<line x1="434.48" y1="245.57" x2="438.48" y2="245.57" stroke="#7cc4c4" stroke-width="0.9" />
<line x1="434.48" y1="262.89" x2="438.48" y2="262.89" stroke="#7cc4c4" stroke-width="0.9" />
<rect x="283.30" y="330.25" width="5.4" height="5.4" fill="#7cc6c6"/>
<rect x="290.82" y="329.43" width="5.4" height="5.4" fill="#7cc6c6"/>
<rect x="298.35" y="327.27" width="5.4" height="5.4" fill="#7cc6c6"/>
<rect x="305.87" y="328.35" width="5.4" height="5.4" fill="#7cc6c6"/>
<rect x="313.40" y="313.75" width="5.4" height="5.4" fill="#7cc6c6"/>
<rect x="358.54" y="290.48" width="5.4" height="5.4" fill="#7cc6c6"/>
<rect x="396.16" y="268.84" width="5.4" height="5.4" fill="#7cc6c6"/>
<rect x="433.78" y="251.53" width="5.4" height="5.4" fill="#7cc6c6"/>
<path d="M286.00 337.54 L293.52 332.68 L301.05 330.51 L308.57 326.18 L316.10 321.85 L361.24 301.30 L398.86 280.20 L436.48 262.34" fill="none" stroke="#4a57a0" stroke-width="1"/>
<line x1="286.0" y1="335.92" x2="286.0" y2="339.17" stroke="#4a57a0" stroke-width="0.9" />
<line x1="284.0" y1="335.92" x2="288.0" y2="335.92" stroke="#4a57a0" stroke-width="0.9" />
<line x1="284.0" y1="339.17" x2="288.0" y2="339.17" stroke="#4a57a0" stroke-width="0.9" />
<line x1="293.52" y1="331.05" x2="293.52" y2="334.3" stroke="#4a57a0" stroke-width="0.9" />
<line x1="291.52" y1="331.05" x2="295.52" y2="331.05" stroke="#4a57a0" stroke-width="0.9" />
<line x1="291.52" y1="334.3" x2="295.52" y2="334.3" stroke="#4a57a0" stroke-width="0.9" />
<line x1="301.05" y1="328.89" x2="301.05" y2="332.13" stroke="#4a57a0" stroke-width="0.9" />
<line x1="299.05" y1="328.89" x2="303.05" y2="328.89" stroke="#4a57a0" stroke-width="0.9" />
<line x1="299.05" y1="332.13" x2="303.05" y2="332.13" stroke="#4a57a0" stroke-width="0.9" />
<line x1="308.57" y1="324.56" x2="308.57" y2="327.81" stroke="#4a57a0" stroke-width="0.9" />
<line x1="306.57" y1="324.56" x2="310.57" y2="324.56" stroke="#4a57a0" stroke-width="0.9" />
<line x1="306.57" y1="327.81" x2="310.57" y2="327.81" stroke="#4a57a0" stroke-width="0.9" />
<line x1="316.1" y1="320.23" x2="316.1" y2="323.48" stroke="#4a57a0" stroke-width="0.9" />
<line x1="314.1" y1="320.23" x2="318.1" y2="320.23" stroke="#4a57a0" stroke-width="0.9" />
<line x1="314.1" y1="323.48" x2="318.1" y2="323.48" stroke="#4a57a0" stroke-width="0.9" />
<line x1="361.24" y1="293.72" x2="361.24" y2="308.87" stroke="#4a57a0" stroke-width="0.9" />
<line x1="359.24" y1="293.72" x2="363.24" y2="293.72" stroke="#4a57a0" stroke-width="0.9" />
<line x1="359.24" y1="308.87" x2="363.24" y2="308.87" stroke="#4a57a0" stroke-width="0.9" />
<line x1="398.86" y1="274.79" x2="398.86" y2="285.61" stroke="#4a57a0" stroke-width="0.9" />
<line x1="396.86" y1="274.79" x2="400.86" y2="274.79" stroke="#4a57a0" stroke-width="0.9" />
<line x1="396.86" y1="285.61" x2="400.86" y2="285.61" stroke="#4a57a0" stroke-width="0.9" />
<line x1="436.48" y1="244.49" x2="436.48" y2="280.2" stroke="#4a57a0" stroke-width="0.9" />
<line x1="434.48" y1="244.49" x2="438.48" y2="244.49" stroke="#4a57a0" stroke-width="0.9" />
<line x1="434.48" y1="280.2" x2="438.48" y2="280.2" stroke="#4a57a0" stroke-width="0.9" />
<rect x="283.30" y="334.84" width="5.4" height="5.4" fill="#4b59a8"/>
<rect x="290.82" y="329.98" width="5.4" height="5.4" fill="#4b59a8"/>
<rect x="298.35" y="327.81" width="5.4" height="5.4" fill="#4b59a8"/>
<rect x="305.87" y="323.48" width="5.4" height="5.4" fill="#4b59a8"/>
<rect x="313.40" y="319.15" width="5.4" height="5.4" fill="#4b59a8"/>
<rect x="358.54" y="298.60" width="5.4" height="5.4" fill="#4b59a8"/>
<rect x="396.16" y="277.50" width="5.4" height="5.4" fill="#4b59a8"/>
<rect x="433.78" y="259.64" width="5.4" height="5.4" fill="#4b59a8"/>
<text x="10.5" y="393.90000000000003" font-size="12.8" font-weight="bold" text-anchor="start" fill="#1e1e1e" >Aggretin A</text>
<line x1="47" y1="408.8" x2="47" y2="518.1" stroke="#555" stroke-width="1.2" />
<line x1="46.4" y1="517.5" x2="213.4" y2="517.5" stroke="#555" stroke-width="1.2" />
<text x="43.8" y="520.0" font-size="10" font-weight="normal" text-anchor="end" fill="#1e1e1e" >0</text>
<text x="43.8" y="484.24" font-size="10" font-weight="normal" text-anchor="end" fill="#1e1e1e" >40</text>
<text x="43.8" y="448.48" font-size="10" font-weight="normal" text-anchor="end" fill="#1e1e1e" >80</text>
<text x="43.8" y="412.72" font-size="10" font-weight="normal" text-anchor="end" fill="#1e1e1e" >120</text>
<text x="53.75" y="528.8" font-size="10" font-weight="normal" text-anchor="middle" fill="#1e1e1e" >0</text>
<text x="69.5" y="528.8" font-size="10" font-weight="normal" text-anchor="middle" fill="#1e1e1e" >60</text>
<text x="86.25" y="528.8" font-size="10" font-weight="normal" text-anchor="middle" fill="#1e1e1e" >120</text>
<text x="112.5" y="528.8" font-size="10" font-weight="normal" text-anchor="middle" fill="#1e1e1e" >240</text>
<text x="144.3" y="528.8" font-size="10" font-weight="normal" text-anchor="middle" fill="#1e1e1e" >360</text>
<text x="174.3" y="528.8" font-size="10" font-weight="normal" text-anchor="middle" fill="#1e1e1e" >480</text>
<text x="204.3" y="528.8" font-size="10" font-weight="normal" text-anchor="middle" fill="#1e1e1e" >600</text>
<text x="93.9" y="542" font-size="11.3" font-weight="normal" text-anchor="start" fill="#1e1e1e" >time (seconds)</text>
<text transform="translate(19.2,462.5) rotate(-90)" font-size="11.3" text-anchor="middle" fill="#1e1e1e">% Aggregation</text>
<path d="M53.30 509.90 L60.82 509.90 L68.34 509.90 L75.86 509.90 L83.38 509.90 L128.51 478.43 L166.11 454.92 L203.72 427.21" fill="none" stroke="#8c8c8c" stroke-width="1"/>
<line x1="53.3" y1="509.01" x2="53.3" y2="510.8" stroke="#8c8c8c" stroke-width="0.9" />
<line x1="51.3" y1="509.01" x2="55.3" y2="509.01" stroke="#8c8c8c" stroke-width="0.9" />
<line x1="51.3" y1="510.8" x2="55.3" y2="510.8" stroke="#8c8c8c" stroke-width="0.9" />
<line x1="60.82" y1="509.01" x2="60.82" y2="510.8" stroke="#8c8c8c" stroke-width="0.9" />
<line x1="58.82" y1="509.01" x2="62.82" y2="509.01" stroke="#8c8c8c" stroke-width="0.9" />
<line x1="58.82" y1="510.8" x2="62.82" y2="510.8" stroke="#8c8c8c" stroke-width="0.9" />
<line x1="68.34" y1="509.01" x2="68.34" y2="510.8" stroke="#8c8c8c" stroke-width="0.9" />
<line x1="66.34" y1="509.01" x2="70.34" y2="509.01" stroke="#8c8c8c" stroke-width="0.9" />
<line x1="66.34" y1="510.8" x2="70.34" y2="510.8" stroke="#8c8c8c" stroke-width="0.9" />
<line x1="75.86" y1="509.01" x2="75.86" y2="510.8" stroke="#8c8c8c" stroke-width="0.9" />
<line x1="73.86" y1="509.01" x2="77.86" y2="509.01" stroke="#8c8c8c" stroke-width="0.9" />
<line x1="73.86" y1="510.8" x2="77.86" y2="510.8" stroke="#8c8c8c" stroke-width="0.9" />
<line x1="83.38" y1="509.01" x2="83.38" y2="510.8" stroke="#8c8c8c" stroke-width="0.9" />
<line x1="81.38" y1="509.01" x2="85.38" y2="509.01" stroke="#8c8c8c" stroke-width="0.9" />
<line x1="81.38" y1="510.8" x2="85.38" y2="510.8" stroke="#8c8c8c" stroke-width="0.9" />
<line x1="128.51" y1="473.07" x2="128.51" y2="483.8" stroke="#8c8c8c" stroke-width="0.9" />
<line x1="126.51" y1="473.07" x2="130.51" y2="473.07" stroke="#8c8c8c" stroke-width="0.9" />
<line x1="126.51" y1="483.8" x2="130.51" y2="483.8" stroke="#8c8c8c" stroke-width="0.9" />
<line x1="166.11" y1="444.19" x2="166.11" y2="465.65" stroke="#8c8c8c" stroke-width="0.9" />
<line x1="164.11" y1="444.19" x2="168.11" y2="444.19" stroke="#8c8c8c" stroke-width="0.9" />
<line x1="164.11" y1="465.65" x2="168.11" y2="465.65" stroke="#8c8c8c" stroke-width="0.9" />
<line x1="203.72" y1="420.95" x2="203.72" y2="433.46" stroke="#8c8c8c" stroke-width="0.9" />
<line x1="201.72" y1="420.95" x2="205.72" y2="420.95" stroke="#8c8c8c" stroke-width="0.9" />
<line x1="201.72" y1="433.46" x2="205.72" y2="433.46" stroke="#8c8c8c" stroke-width="0.9" />
<circle cx="53.30" cy="509.90" r="2.7" fill="#808080"/>
<circle cx="60.82" cy="509.90" r="2.7" fill="#808080"/>
<circle cx="68.34" cy="509.90" r="2.7" fill="#808080"/>
<circle cx="75.86" cy="509.90" r="2.7" fill="#808080"/>
<circle cx="83.38" cy="509.90" r="2.7" fill="#808080"/>
<circle cx="128.51" cy="478.43" r="2.7" fill="#808080"/>
<circle cx="166.11" cy="454.92" r="2.7" fill="#808080"/>
<circle cx="203.72" cy="427.21" r="2.7" fill="#808080"/>
<path d="M53.30 509.90 L60.82 509.90 L68.34 509.90 L75.86 509.90 L83.38 509.90 L128.51 501.41 L166.11 490.68 L203.72 488.44" fill="none" stroke="#7cc4c4" stroke-width="1"/>
<line x1="53.3" y1="509.01" x2="53.3" y2="510.8" stroke="#7cc4c4" stroke-width="0.9" />
<line x1="51.3" y1="509.01" x2="55.3" y2="509.01" stroke="#7cc4c4" stroke-width="0.9" />
<line x1="51.3" y1="510.8" x2="55.3" y2="510.8" stroke="#7cc4c4" stroke-width="0.9" />
<line x1="60.82" y1="509.01" x2="60.82" y2="510.8" stroke="#7cc4c4" stroke-width="0.9" />
<line x1="58.82" y1="509.01" x2="62.82" y2="509.01" stroke="#7cc4c4" stroke-width="0.9" />
<line x1="58.82" y1="510.8" x2="62.82" y2="510.8" stroke="#7cc4c4" stroke-width="0.9" />
<line x1="68.34" y1="509.01" x2="68.34" y2="510.8" stroke="#7cc4c4" stroke-width="0.9" />
<line x1="66.34" y1="509.01" x2="70.34" y2="509.01" stroke="#7cc4c4" stroke-width="0.9" />
<line x1="66.34" y1="510.8" x2="70.34" y2="510.8" stroke="#7cc4c4" stroke-width="0.9" />
<line x1="75.86" y1="509.01" x2="75.86" y2="510.8" stroke="#7cc4c4" stroke-width="0.9" />
<line x1="73.86" y1="509.01" x2="77.86" y2="509.01" stroke="#7cc4c4" stroke-width="0.9" />
<line x1="73.86" y1="510.8" x2="77.86" y2="510.8" stroke="#7cc4c4" stroke-width="0.9" />
<line x1="83.38" y1="509.01" x2="83.38" y2="510.8" stroke="#7cc4c4" stroke-width="0.9" />
<line x1="81.38" y1="509.01" x2="85.38" y2="509.01" stroke="#7cc4c4" stroke-width="0.9" />
<line x1="81.38" y1="510.8" x2="85.38" y2="510.8" stroke="#7cc4c4" stroke-width="0.9" />
<line x1="128.51" y1="498.73" x2="128.51" y2="504.09" stroke="#7cc4c4" stroke-width="0.9" />
<line x1="126.51" y1="498.73" x2="130.51" y2="498.73" stroke="#7cc4c4" stroke-width="0.9" />
<line x1="126.51" y1="504.09" x2="130.51" y2="504.09" stroke="#7cc4c4" stroke-width="0.9" />
<line x1="166.11" y1="485.32" x2="166.11" y2="496.04" stroke="#7cc4c4" stroke-width="0.9" />
<line x1="164.11" y1="485.32" x2="168.11" y2="485.32" stroke="#7cc4c4" stroke-width="0.9" />
<line x1="164.11" y1="496.04" x2="168.11" y2="496.04" stroke="#7cc4c4" stroke-width="0.9" />
<line x1="203.72" y1="483.97" x2="203.72" y2="492.92" stroke="#7cc4c4" stroke-width="0.9" />
<line x1="201.72" y1="483.97" x2="205.72" y2="483.97" stroke="#7cc4c4" stroke-width="0.9" />
<line x1="201.72" y1="492.92" x2="205.72" y2="492.92" stroke="#7cc4c4" stroke-width="0.9" />
<rect x="50.60" y="507.20" width="5.4" height="5.4" fill="#7cc6c6"/>
<rect x="58.12" y="507.20" width="5.4" height="5.4" fill="#7cc6c6"/>
<rect x="65.64" y="507.20" width="5.4" height="5.4" fill="#7cc6c6"/>
<rect x="73.16" y="507.20" width="5.4" height="5.4" fill="#7cc6c6"/>
<rect x="80.68" y="507.20" width="5.4" height="5.4" fill="#7cc6c6"/>
<rect x="125.81" y="498.71" width="5.4" height="5.4" fill="#7cc6c6"/>
<rect x="163.41" y="487.98" width="5.4" height="5.4" fill="#7cc6c6"/>
<rect x="201.02" y="485.75" width="5.4" height="5.4" fill="#7cc6c6"/>
<path d="M53.30 509.90 L60.82 509.90 L68.34 509.90 L75.86 509.90 L83.38 509.90 L128.51 508.38 L166.11 502.75 L203.72 506.32" fill="none" stroke="#4a57a0" stroke-width="1"/>
<line x1="53.3" y1="509.01" x2="53.3" y2="510.8" stroke="#4a57a0" stroke-width="0.9" />
<line x1="51.3" y1="509.01" x2="55.3" y2="509.01" stroke="#4a57a0" stroke-width="0.9" />
<line x1="51.3" y1="510.8" x2="55.3" y2="510.8" stroke="#4a57a0" stroke-width="0.9" />
<line x1="60.82" y1="509.01" x2="60.82" y2="510.8" stroke="#4a57a0" stroke-width="0.9" />
<line x1="58.82" y1="509.01" x2="62.82" y2="509.01" stroke="#4a57a0" stroke-width="0.9" />
<line x1="58.82" y1="510.8" x2="62.82" y2="510.8" stroke="#4a57a0" stroke-width="0.9" />
<line x1="68.34" y1="509.01" x2="68.34" y2="510.8" stroke="#4a57a0" stroke-width="0.9" />
<line x1="66.34" y1="509.01" x2="70.34" y2="509.01" stroke="#4a57a0" stroke-width="0.9" />
<line x1="66.34" y1="510.8" x2="70.34" y2="510.8" stroke="#4a57a0" stroke-width="0.9" />
<line x1="75.86" y1="509.01" x2="75.86" y2="510.8" stroke="#4a57a0" stroke-width="0.9" />
<line x1="73.86" y1="509.01" x2="77.86" y2="509.01" stroke="#4a57a0" stroke-width="0.9" />
<line x1="73.86" y1="510.8" x2="77.86" y2="510.8" stroke="#4a57a0" stroke-width="0.9" />
<line x1="83.38" y1="509.01" x2="83.38" y2="510.8" stroke="#4a57a0" stroke-width="0.9" />
<line x1="81.38" y1="509.01" x2="85.38" y2="509.01" stroke="#4a57a0" stroke-width="0.9" />
<line x1="81.38" y1="510.8" x2="85.38" y2="510.8" stroke="#4a57a0" stroke-width="0.9" />
<line x1="128.51" y1="507.49" x2="128.51" y2="509.28" stroke="#4a57a0" stroke-width="0.9" />
<line x1="126.51" y1="507.49" x2="130.51" y2="507.49" stroke="#4a57a0" stroke-width="0.9" />
<line x1="126.51" y1="509.28" x2="130.51" y2="509.28" stroke="#4a57a0" stroke-width="0.9" />
<line x1="166.11" y1="501.86" x2="166.11" y2="503.64" stroke="#4a57a0" stroke-width="0.9" />
<line x1="164.11" y1="501.86" x2="168.11" y2="501.86" stroke="#4a57a0" stroke-width="0.9" />
<line x1="164.11" y1="503.64" x2="168.11" y2="503.64" stroke="#4a57a0" stroke-width="0.9" />
<line x1="203.72" y1="505.43" x2="203.72" y2="507.22" stroke="#4a57a0" stroke-width="0.9" />
<line x1="201.72" y1="505.43" x2="205.72" y2="505.43" stroke="#4a57a0" stroke-width="0.9" />
<line x1="201.72" y1="507.22" x2="205.72" y2="507.22" stroke="#4a57a0" stroke-width="0.9" />
<rect x="50.60" y="507.20" width="5.4" height="5.4" fill="#4b59a8"/>
<rect x="58.12" y="507.20" width="5.4" height="5.4" fill="#4b59a8"/>
<rect x="65.64" y="507.20" width="5.4" height="5.4" fill="#4b59a8"/>
<rect x="73.16" y="507.20" width="5.4" height="5.4" fill="#4b59a8"/>
<rect x="80.68" y="507.20" width="5.4" height="5.4" fill="#4b59a8"/>
<rect x="125.81" y="505.68" width="5.4" height="5.4" fill="#4b59a8"/>
<rect x="163.41" y="500.05" width="5.4" height="5.4" fill="#4b59a8"/>
<rect x="201.02" y="503.62" width="5.4" height="5.4" fill="#4b59a8"/>
<text x="128.5" y="500.70000000000005" font-size="10" font-weight="normal" text-anchor="middle" fill="#7cc4c4" >*</text>
<text x="166" y="486.1" font-size="10" font-weight="normal" text-anchor="middle" fill="#7cc4c4" >*</text>
<text x="204.79999999999998" y="486.1" font-size="10" font-weight="normal" text-anchor="middle" fill="#7cc4c4" letter-spacing="0.4">***</text>
<text x="128.5" y="521.9" font-size="10" font-weight="normal" text-anchor="middle" fill="#4a57a0" >*</text>
<text x="166" y="515.5" font-size="10" font-weight="normal" text-anchor="middle" fill="#4a57a0" >*</text>
<text x="204.79999999999998" y="518.4" font-size="10" font-weight="normal" text-anchor="middle" fill="#4a57a0" letter-spacing="0.4">***</text>
<text x="242" y="394.1" font-size="12.8" font-weight="bold" text-anchor="start" fill="#1e1e1e" >Convulxin</text>
<line x1="278.5" y1="408.8" x2="278.5" y2="517.9" stroke="#555" stroke-width="1.2" />
<line x1="277.9" y1="517.3" x2="445.5" y2="517.3" stroke="#555" stroke-width="1.2" />
<text x="275.3" y="520.8" font-size="10" font-weight="normal" text-anchor="end" fill="#1e1e1e" >0</text>
<text x="275.3" y="485.04" font-size="10" font-weight="normal" text-anchor="end" fill="#1e1e1e" >40</text>
<text x="275.3" y="449.28" font-size="10" font-weight="normal" text-anchor="end" fill="#1e1e1e" >80</text>
<text x="275.3" y="413.52" font-size="10" font-weight="normal" text-anchor="end" fill="#1e1e1e" >120</text>
<text x="294.7" y="529.3" font-size="10" font-weight="normal" text-anchor="middle" fill="#1e1e1e" >0</text>
<text x="329.7" y="529.3" font-size="10" font-weight="normal" text-anchor="middle" fill="#1e1e1e" >30</text>
<text x="362.6" y="529.3" font-size="10" font-weight="normal" text-anchor="middle" fill="#1e1e1e" >60</text>
<text x="395.5" y="529.3" font-size="10" font-weight="normal" text-anchor="middle" fill="#1e1e1e" >90</text>
<text x="429.4" y="529.3" font-size="10" font-weight="normal" text-anchor="middle" fill="#1e1e1e" >120</text>
<text x="323.5" y="542.5" font-size="11.3" font-weight="normal" text-anchor="start" fill="#1e1e1e" >time (seconds)</text>
<text transform="translate(251.4,463.5) rotate(-90)" font-size="11.3" text-anchor="middle" fill="#1e1e1e">% Aggregation</text>
<path d="M294.70 506.04 L328.30 429.69 L361.90 421.64 L395.50 418.96 L429.10 418.96" fill="none" stroke="#8c8c8c" stroke-width="1"/>
<line x1="328.3" y1="428.79" x2="328.3" y2="430.58" stroke="#8c8c8c" stroke-width="0.9" />
<line x1="326.3" y1="428.79" x2="330.3" y2="428.79" stroke="#8c8c8c" stroke-width="0.9" />
<line x1="326.3" y1="430.58" x2="330.3" y2="430.58" stroke="#8c8c8c" stroke-width="0.9" />
<line x1="361.9" y1="419.85" x2="361.9" y2="423.43" stroke="#8c8c8c" stroke-width="0.9" />
<line x1="359.9" y1="419.85" x2="363.9" y2="419.85" stroke="#8c8c8c" stroke-width="0.9" />
<line x1="359.9" y1="423.43" x2="363.9" y2="423.43" stroke="#8c8c8c" stroke-width="0.9" />
<line x1="395.5" y1="412.7" x2="395.5" y2="425.22" stroke="#8c8c8c" stroke-width="0.9" />
<line x1="393.5" y1="412.7" x2="397.5" y2="412.7" stroke="#8c8c8c" stroke-width="0.9" />
<line x1="393.5" y1="425.22" x2="397.5" y2="425.22" stroke="#8c8c8c" stroke-width="0.9" />
<line x1="429.1" y1="413.6" x2="429.1" y2="424.32" stroke="#8c8c8c" stroke-width="0.9" />
<line x1="427.1" y1="413.6" x2="431.1" y2="413.6" stroke="#8c8c8c" stroke-width="0.9" />
<line x1="427.1" y1="424.32" x2="431.1" y2="424.32" stroke="#8c8c8c" stroke-width="0.9" />
<circle cx="294.70" cy="506.04" r="2.7" fill="#808080"/>
<circle cx="328.30" cy="429.69" r="2.7" fill="#808080"/>
<circle cx="361.90" cy="421.64" r="2.7" fill="#808080"/>
<circle cx="395.50" cy="418.96" r="2.7" fill="#808080"/>
<circle cx="429.10" cy="418.96" r="2.7" fill="#808080"/>
<path d="M294.70 506.04 L328.30 442.47 L361.90 438.63 L395.50 445.42 L429.10 447.57" fill="none" stroke="#7cc4c4" stroke-width="1"/>
<line x1="328.3" y1="438.9" x2="328.3" y2="446.05" stroke="#7cc4c4" stroke-width="0.9" />
<line x1="326.3" y1="438.9" x2="330.3" y2="438.9" stroke="#7cc4c4" stroke-width="0.9" />
<line x1="326.3" y1="446.05" x2="330.3" y2="446.05" stroke="#7cc4c4" stroke-width="0.9" />
<line x1="361.9" y1="434.16" x2="361.9" y2="443.1" stroke="#7cc4c4" stroke-width="0.9" />
<line x1="359.9" y1="434.16" x2="363.9" y2="434.16" stroke="#7cc4c4" stroke-width="0.9" />
<line x1="359.9" y1="443.1" x2="363.9" y2="443.1" stroke="#7cc4c4" stroke-width="0.9" />
<line x1="395.5" y1="439.16" x2="395.5" y2="451.68" stroke="#7cc4c4" stroke-width="0.9" />
<line x1="393.5" y1="439.16" x2="397.5" y2="439.16" stroke="#7cc4c4" stroke-width="0.9" />
<line x1="393.5" y1="451.68" x2="397.5" y2="451.68" stroke="#7cc4c4" stroke-width="0.9" />
<line x1="429.1" y1="441.31" x2="429.1" y2="453.83" stroke="#7cc4c4" stroke-width="0.9" />
<line x1="427.1" y1="441.31" x2="431.1" y2="441.31" stroke="#7cc4c4" stroke-width="0.9" />
<line x1="427.1" y1="453.83" x2="431.1" y2="453.83" stroke="#7cc4c4" stroke-width="0.9" />
<rect x="292.00" y="503.34" width="5.4" height="5.4" fill="#7cc6c6"/>
<rect x="325.60" y="439.77" width="5.4" height="5.4" fill="#7cc6c6"/>
<rect x="359.20" y="435.93" width="5.4" height="5.4" fill="#7cc6c6"/>
<rect x="392.80" y="442.72" width="5.4" height="5.4" fill="#7cc6c6"/>
<rect x="426.40" y="444.87" width="5.4" height="5.4" fill="#7cc6c6"/>
<path d="M294.70 506.04 L328.30 492.00 L361.90 489.59 L395.50 488.24 L429.10 485.12" fill="none" stroke="#4a57a0" stroke-width="1"/>
<line x1="294.7" y1="505.14" x2="294.7" y2="506.93" stroke="#4a57a0" stroke-width="0.9" />
<line x1="292.7" y1="505.14" x2="296.7" y2="505.14" stroke="#4a57a0" stroke-width="0.9" />
<line x1="292.7" y1="506.93" x2="296.7" y2="506.93" stroke="#4a57a0" stroke-width="0.9" />
<line x1="328.3" y1="491.11" x2="328.3" y2="492.89" stroke="#4a57a0" stroke-width="0.9" />
<line x1="326.3" y1="491.11" x2="330.3" y2="491.11" stroke="#4a57a0" stroke-width="0.9" />
<line x1="326.3" y1="492.89" x2="330.3" y2="492.89" stroke="#4a57a0" stroke-width="0.9" />
<line x1="361.9" y1="487.8" x2="361.9" y2="491.37" stroke="#4a57a0" stroke-width="0.9" />
<line x1="359.9" y1="487.8" x2="363.9" y2="487.8" stroke="#4a57a0" stroke-width="0.9" />
<line x1="359.9" y1="491.37" x2="363.9" y2="491.37" stroke="#4a57a0" stroke-width="0.9" />
<line x1="395.5" y1="487.35" x2="395.5" y2="489.14" stroke="#4a57a0" stroke-width="0.9" />
<line x1="393.5" y1="487.35" x2="397.5" y2="487.35" stroke="#4a57a0" stroke-width="0.9" />
<line x1="393.5" y1="489.14" x2="397.5" y2="489.14" stroke="#4a57a0" stroke-width="0.9" />
<line x1="429.1" y1="484.22" x2="429.1" y2="486.01" stroke="#4a57a0" stroke-width="0.9" />
<line x1="427.1" y1="484.22" x2="431.1" y2="484.22" stroke="#4a57a0" stroke-width="0.9" />
<line x1="427.1" y1="486.01" x2="431.1" y2="486.01" stroke="#4a57a0" stroke-width="0.9" />
<rect x="292.00" y="503.34" width="5.4" height="5.4" fill="#4b59a8"/>
<rect x="325.60" y="489.30" width="5.4" height="5.4" fill="#4b59a8"/>
<rect x="359.20" y="486.89" width="5.4" height="5.4" fill="#4b59a8"/>
<rect x="392.80" y="485.54" width="5.4" height="5.4" fill="#4b59a8"/>
<rect x="426.40" y="482.42" width="5.4" height="5.4" fill="#4b59a8"/>
<text x="362.6" y="437.40000000000003" font-size="10" font-weight="normal" text-anchor="middle" fill="#7cc4c4" >*</text>
<text x="395.5" y="441.40000000000003" font-size="10" font-weight="normal" text-anchor="middle" fill="#7cc4c4" >*</text>
<text x="429.4" y="443.5" font-size="10" font-weight="normal" text-anchor="middle" fill="#7cc4c4" >*</text>
<text x="329.09999999999997" y="506.70000000000005" font-size="10" font-weight="normal" text-anchor="middle" fill="#4a57a0" letter-spacing="0.4">***</text>
<text x="362.8" y="505.8" font-size="10" font-weight="normal" text-anchor="middle" fill="#4a57a0" letter-spacing="0.4">***</text>
<text x="395.7" y="501.5" font-size="10" font-weight="normal" text-anchor="middle" fill="#4a57a0" letter-spacing="0.4">***</text>
<text x="429.4" y="498.8" font-size="10" font-weight="normal" text-anchor="middle" fill="#4a57a0" letter-spacing="0.4">***</text>
<circle cx="464.6" cy="412.6" r="2.6" fill="#555"/>
<text x="473" y="415.8" font-size="10" font-weight="normal" text-anchor="start" fill="#1e1e1e" >DMSO</text>
<rect x="462" y="423" width="6" height="6" fill="#7cc4c4" />
<text x="473" y="429.4" font-size="10" font-weight="normal" text-anchor="start" fill="#1e1e1e" >ML7 20µM</text>
<rect x="462" y="437" width="6" height="6" fill="#4a57a0" />
<text x="473" y="443" font-size="10" font-weight="normal" text-anchor="start" fill="#1e1e1e" >ML7 50µM</text>
</svg>
</body></html>
